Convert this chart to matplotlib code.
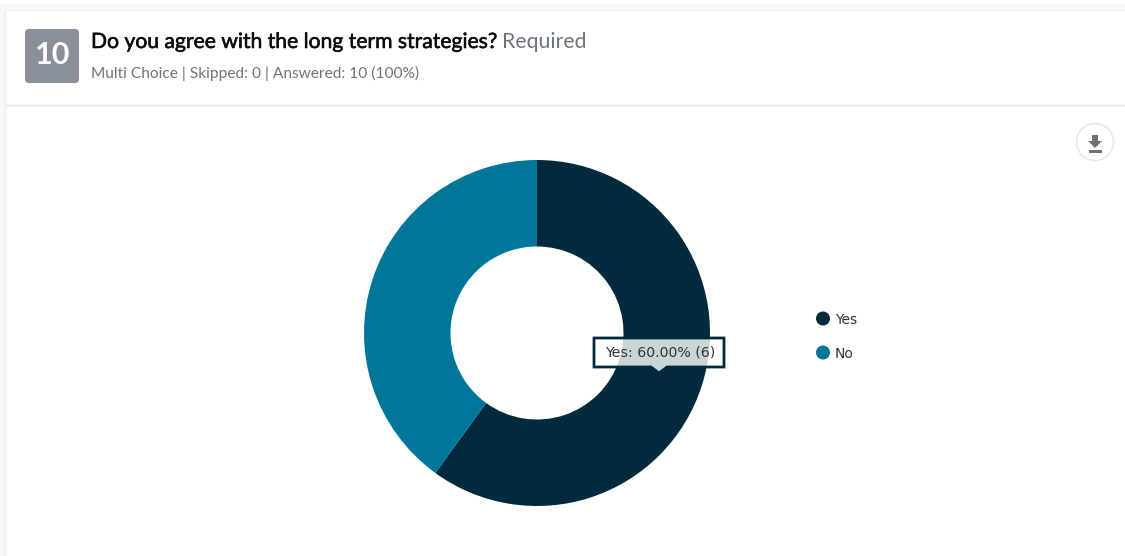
import matplotlib
matplotlib.use("Agg")
from matplotlib import pyplot as plt
from matplotlib import patheffects
from matplotlib.patches import FancyBboxPatch, Rectangle, Circle, Polygon

# Survey results
labels = ["Yes", "No"]
counts = [6, 4]
colors = ["#012b3d", "#007799"]
answered = sum(counts)
skipped = 0

W, H = 1125, 556
TEXT_FONT = ["Lato", "DejaVu Sans"]


def draw_card(bg):
    # Page strip, card and header divider
    bg.add_patch(Rectangle((0, 0), W, H, fc="white", ec="none"))
    bg.add_patch(Rectangle((0, 4), W, H, fc="#f8f8f8", ec="none"))
    bg.add_patch(Rectangle((5, 10), W, H, fc="white", ec="#efefef", lw=1))
    bg.plot([6, W], [104.5, 104.5], color="#e3e4e6", lw=1)

    # Question number badge
    bg.add_patch(FancyBboxPatch((27, 31), 50, 50, boxstyle="round,pad=2,rounding_size=4",
                                fc="#8a9099", ec="none"))
    bg.text(52.5, 55, "10", color="white", fontsize=22, fontweight="bold",
            ha="center", va="center", family=TEXT_FONT)

    title = bg.text(91, 42, "Do you agree with the long term strategies?", color="#0c0c0c",
                    fontsize=15.2, ha="left", va="center", family=TEXT_FONT)
    title.set_path_effects([patheffects.withStroke(linewidth=0.4, foreground="#0c0c0c")])
    bg.text(502, 42, "Required", color="#6c757d", fontsize=15.3,
            ha="left", va="center", family=TEXT_FONT)
    bg.text(91, 73, f"Multi Choice | Skipped: {skipped} | Answered: {answered} (100%)",
            color="#6c757d", fontsize=11.2, ha="left", va="center", family=TEXT_FONT)


def draw_download(bg):
    # Round download button
    bg.add_patch(Circle((1095, 142), 18.5, fc="white", ec="#e3e5e7", lw=1))
    bg.add_patch(Polygon([(1092, 135), (1098, 135), (1098, 141), (1102, 141), (1095, 148),
                          (1088, 141), (1092, 141)], fc="#6c727a", ec="none"))
    bg.add_patch(Rectangle((1089, 150), 13, 2.5, fc="#6c727a", ec="none"))


def draw_legend(fg):
    for i, (name, color) in enumerate(zip(labels, colors)):
        y = 318.5 + i * 34
        fg.add_patch(Circle((823, y), 7, fc=color, ec="none"))
        fg.text(835, y + 1, name, color="#333333", fontsize=10, ha="left", va="center",
                family=["DejaVu Sans"])


def draw_tooltip(fg):
    # Translucent tooltip over the ring
    share = counts[0] / answered * 100
    fg.add_patch(Polygon([(594, 338), (724, 338), (724, 367), (667, 367), (659, 373), (651, 367),
                          (594, 367)], closed=True, fc=(1, 1, 1, 0.8), ec="#012b3d", lw=2,
                         joinstyle="miter"))
    fg.text(660, 353, f"{labels[0]}: {share:.2f}% ({counts[0]})", color="#333333", fontsize=10.2,
            ha="center", va="center", family=["DejaVu Sans"])


def main():
    fig = plt.figure(figsize=(W / 100, H / 100), dpi=100)

    # Background layer in pixel units
    bg = fig.add_axes([0, 0, 1, 1])
    bg.set_xlim(0, W)
    bg.set_ylim(H, 0)
    bg.axis("off")
    draw_card(bg)
    draw_download(bg)

    # Doughnut
    cx, cy, r = 537, 333, 173
    ax = fig.add_axes([(cx - r) / W, 1 - (cy + r) / H, 2 * r / W, 2 * r / H])
    ax.pie(counts, colors=colors, startangle=90, counterclock=False, radius=1,
           wedgeprops={"width": 0.5, "linewidth": 0})
    ax.set_xlim(-1, 1)
    ax.set_ylim(-1, 1)

    # Overlay for legend and tooltip
    fg = fig.add_axes([0, 0, 1, 1])
    fg.set_xlim(0, W)
    fg.set_ylim(H, 0)
    fg.axis("off")
    fg.patch.set_alpha(0)
    draw_legend(fg)
    draw_tooltip(fg)

    fig.savefig("out.png", dpi=100)


if __name__ == "__main__":
    main()
